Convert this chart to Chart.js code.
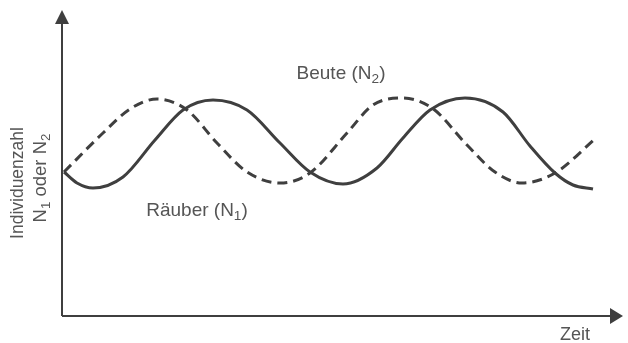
<!DOCTYPE html>
<html>
<head>
<meta charset="utf-8">
<script src="https://cdn.jsdelivr.net/npm/chart.js@4"></script>
<style>
  html, body { margin: 0; padding: 0; background: #fff; }
  #wrap { width: 628px; height: 343px; }
</style>
</head>
<body>
<div id="wrap"><canvas id="grafico" width="628" height="343"></canvas></div>
<script>
// Werte (Zeit / Individuenzahl, willkürliche Einheiten)
const zeitRaeuber = [0.2, 1.5, 3.1, 6.1, 9.3, 12.1, 15.1, 18.5, 21.8, 24.8, 28.1, 31.5, 34.1, 36.8, 40.3, 44.1, 46.8, 49.3, 51.1, 53.1];
const raeuber = [14.4, 13.3, 12.8, 13.9, 17.6, 20.6, 21.6, 20.6, 17.3, 14.4, 13.2, 14.8, 17.8, 20.6, 21.8, 20.4, 17.0, 14.3, 13.1, 12.7];

const zeitBeute = [0.2, 4.1, 6.8, 9.5, 12.5, 15.5, 18.5, 21.8, 24.8, 28.5, 31.1, 34.0, 37.0, 40.5, 43.3, 46.0, 49.3, 53.5];
const beute = [14.4, 18.3, 20.7, 21.7, 20.6, 17.3, 14.4, 13.3, 14.3, 18.3, 21.1, 21.8, 20.8, 17.1, 14.4, 13.3, 14.3, 17.9];

const achseX = [0, 56];
const achseY = [0, 30.6];

const farbe = "#3f3f3f";
const schrift = "'Liberation Sans', Arial, sans-serif";

function punkte(xs, ys) {
  return xs.map((x, i) => ({ x: x, y: ys[i] }));
}

// Text mit Tiefstellung zeichnen: teile = [[text, tief], ...]
function textMitIndex(ctx, teile, x, y, gr) {
  let breite = 0;
  teile.forEach(t => {
    ctx.font = (t[1] ? gr * 0.72 : gr) + "px " + schrift;
    breite += ctx.measureText(t[0]).width;
  });
  let px = x - breite / 2;
  teile.forEach(t => {
    ctx.font = (t[1] ? gr * 0.72 : gr) + "px " + schrift;
    ctx.fillText(t[0], px, y + (t[1] ? gr * 0.28 : 0));
    px += ctx.measureText(t[0]).width;
  });
}

const achsenPlugin = {
  id: "achsen",
  afterDraw(chart) {
    const ctx = chart.ctx;
    const a = chart.chartArea;
    ctx.save();
    ctx.strokeStyle = farbe;
    ctx.fillStyle = farbe;
    ctx.lineWidth = 2;
    ctx.beginPath();
    ctx.moveTo(a.left, a.bottom);
    ctx.lineTo(a.left, a.top + 12);
    ctx.moveTo(a.left, a.bottom);
    ctx.lineTo(a.right - 12, a.bottom);
    ctx.stroke();
    // Pfeilspitzen
    ctx.beginPath();
    ctx.moveTo(a.left, a.top);
    ctx.lineTo(a.left - 7, a.top + 14);
    ctx.lineTo(a.left + 7, a.top + 14);
    ctx.closePath();
    ctx.fill();
    ctx.beginPath();
    ctx.moveTo(a.right + 1, a.bottom);
    ctx.lineTo(a.right - 12, a.bottom - 8);
    ctx.lineTo(a.right - 12, a.bottom + 8);
    ctx.closePath();
    ctx.fill();

    ctx.fillStyle = "#555";
    ctx.textBaseline = "middle";
    textMitIndex(ctx, [["Beute (N", 0], ["2", 1], [")", 0]], 341, 74, 19);
    textMitIndex(ctx, [["Räuber (N", 0], ["1", 1], [")", 0]], 197, 211, 19);
    ctx.font = "18px " + schrift;
    ctx.textAlign = "center";
    ctx.fillText("Zeit", 575, 335);

    ctx.save();
    ctx.translate(18, 183);
    ctx.rotate(-Math.PI / 2);
    ctx.textAlign = "center";
    ctx.font = "17.5px " + schrift;
    ctx.fillText("Individuenzahl", 0, 0);
    ctx.restore();
    ctx.save();
    ctx.translate(41, 178);
    ctx.rotate(-Math.PI / 2);
    ctx.textAlign = "left";
    textMitIndex(ctx, [["N", 0], ["1", 1], [" oder N", 0], ["2", 1]], 0, 0, 18.5);
    ctx.restore();
    ctx.restore();
  }
};

new Chart(document.getElementById("grafico"), {
  type: "line",
  data: {
    datasets: [
      {
        label: "Räuber (N1)",
        data: punkte(zeitRaeuber, raeuber),
        borderColor: farbe,
        borderWidth: 3,
        pointRadius: 0,
        cubicInterpolationMode: "monotone",
        fill: false
      },
      {
        label: "Beute (N2)",
        data: punkte(zeitBeute, beute),
        borderColor: farbe,
        borderWidth: 3,
        borderDash: [10, 6],
        pointRadius: 0,
        cubicInterpolationMode: "monotone",
        fill: false
      }
    ]
  },
  options: {
    responsive: false,
    animation: false,
    layout: { padding: { left: 62, right: 6, top: 10, bottom: 27 } },
    plugins: { legend: { display: false }, tooltip: { enabled: false } },
    scales: {
      x: { type: "linear", min: achseX[0], max: achseX[1], display: false },
      y: { min: achseY[0], max: achseY[1], display: false }
    }
  },
  plugins: [achsenPlugin]
});
</script>
</body>
</html>
